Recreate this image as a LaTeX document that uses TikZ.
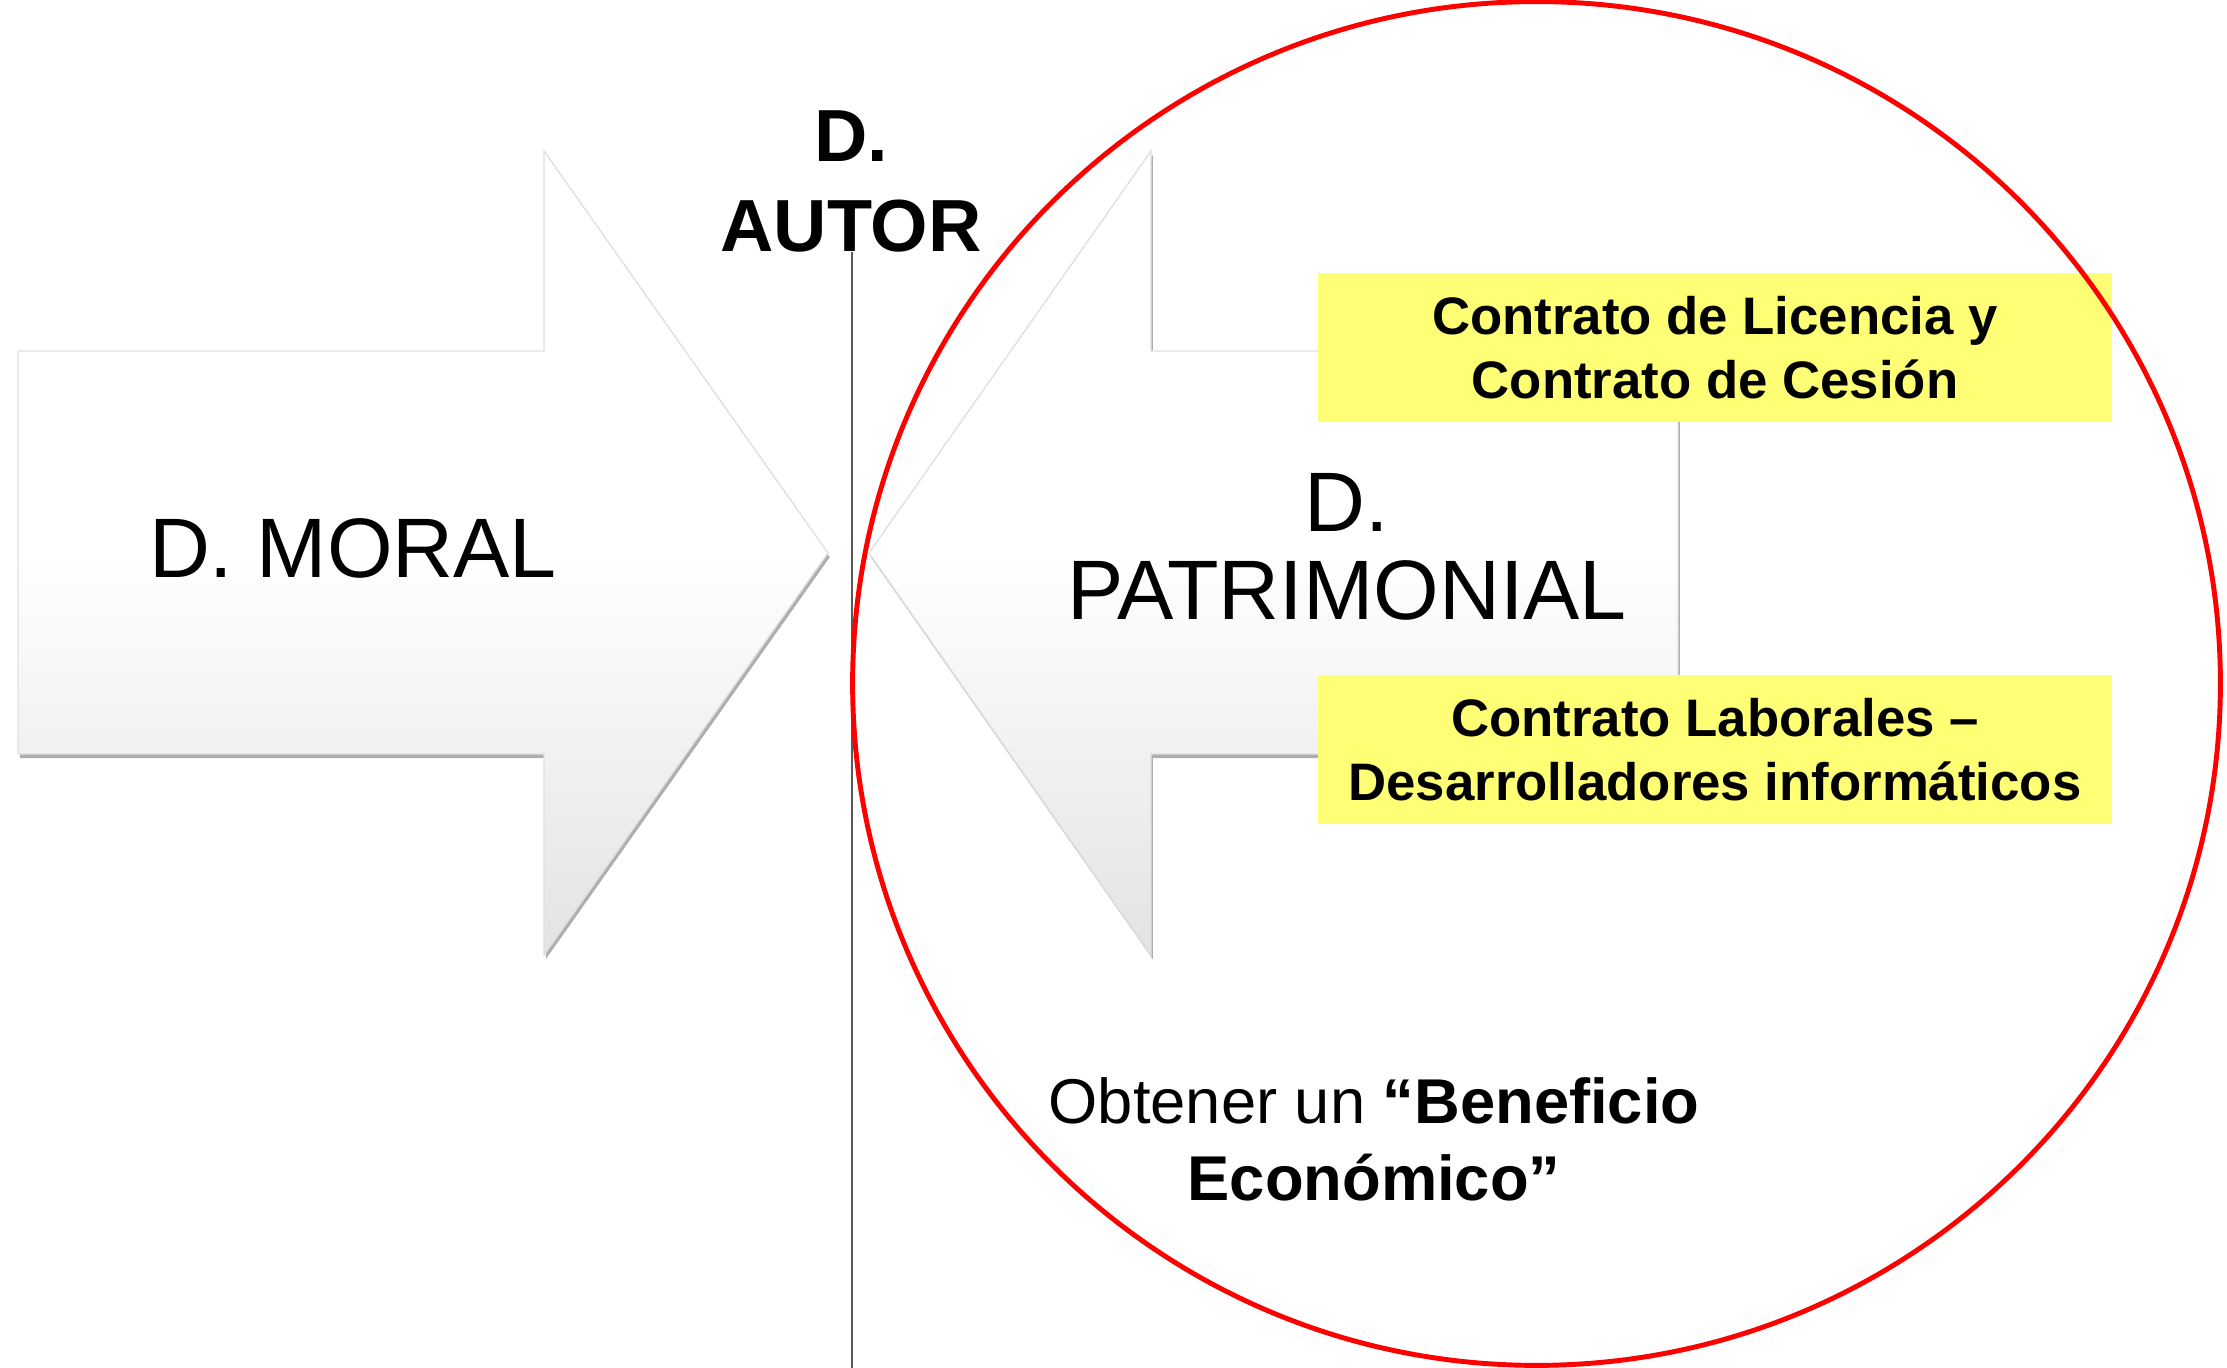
\documentclass[tikz,border=0pt]{standalone}
\usepackage{fontspec}
\setmainfont{Liberation Sans}
\usepackage{tikz}
\usetikzlibrary{shadows}
\definecolor{notey}{RGB}{255,255,117}
\definecolor{ringred}{RGB}{255,0,0}
\definecolor{axisgray}{RGB}{89,89,89}
\tikzstyle{bigarrow} = [draw = black!12, line width = 0.4pt, top color = white, bottom color = black!11, middle color = white, drop shadow = {shadow xshift = 0.5pt, shadow yshift = -1.2pt, opacity = 0.45, fill = black!70}]
\tikzstyle{bigtext} = [font = \fontsize{24}{25}\selectfont, inner sep = 0pt]
\tikzstyle{autortext} = [font = \bfseries\fontsize{21}{25.6}\selectfont, inner sep = 0pt]
\tikzstyle{yellowbox} = [rectangle, fill = notey, minimum width = 7.94cm, minimum height = 1.48cm, text centered, align = center, inner sep = 0pt, font = \bfseries\fontsize{15}{18.2}\selectfont]
\tikzstyle{bottomtext} = [font = \fontsize{18}{21.9}\selectfont, inner sep = 0pt]
\tikzstyle{axisline} = [draw = axisgray, line width = 0.6pt]
\tikzstyle{ringline} = [draw = ringred, line width = 1.4pt]

\begin{document}
\begin{tikzpicture}[x = 0.01cm, y = -0.01cm]
\useasboundingbox (0,0) rectangle (2227,1368);

\path [bigarrow] (18,351) -- (544,351) -- (544,151) -- (828,553) -- (544,955) -- (544,754) -- (18,754) -- cycle;
\path [bigarrow] (1678,351) -- (1151,351) -- (1151,151) -- (869,553) -- (1151,955) -- (1151,754) -- (1678,754) -- cycle;

\node(moral) [bigtext, anchor = base] at (353,578) {D. MORAL};
\node(patrimonial) [bigtext, align = center] at (1347,547) {D.\\PATRIMONIAL};
\node(autor) [autortext, align = center] at (851,181) {D.\\AUTOR};

\coordinate (axisend) at (852,1368);
\draw [axisline] (autor.south -| axisend) -- (axisend);

\node(licencia) [yellowbox] at (1715,347.5) {Contrato de Licencia y\\Contrato de Cesión};
\node(laborales) [yellowbox] at (1715,749.5) {Contrato Laborales –\\Desarrolladores informáticos};

\draw [ringline] (1536.5,683.5) ellipse [x radius = 6.835cm, y radius = 6.815cm];

\node(beneficio) [bottomtext, align = center] at (1374,1139.5) {Obtener un \textbf{“Beneficio}\\\textbf{Económico”}};

\end{tikzpicture}
\end{document}
